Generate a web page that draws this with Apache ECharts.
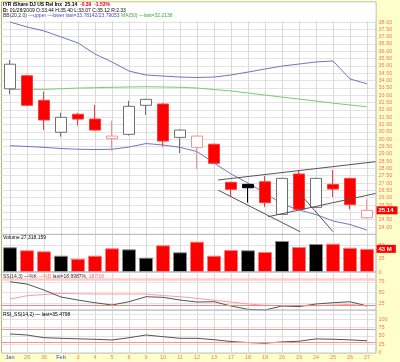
<!DOCTYPE html>
<html><head><meta charset="utf-8">
<script src="https://cdn.jsdelivr.net/npm/echarts/dist/echarts.min.js"></script>
<style>html,body{margin:0;padding:0;background:#ffffcc}#c{width:400px;height:362px}</style>
</head><body><div id="c"></div>
<script>
// ---------- data ----------
const dates = ['Jan','29','30','Feb','3','4','5','6','9','10','11','12','13','17','18','19','20','23','24','25','26','27'];
const priorClose = 33.40;
const opens  = [33.44,34.33,32.65,30.47,31.70,31.37,30.03,30.33,32.31,32.40,30.12,29.44,29.65,27.05,26.91,27.09,24.86,27.62,25.34,26.91,27.32,24.63];
const highs  = [35.40,34.40,33.24,31.80,31.80,32.33,31.26,32.62,32.76,32.45,30.66,30.25,29.70,27.10,26.95,27.48,27.36,27.89,27.36,27.89,27.36,25.89];
const lows   = [33.07,32.25,30.62,30.17,30.92,30.60,29.20,30.25,31.65,29.48,29.05,27.94,28.30,26.11,25.66,25.37,24.82,25.17,25.30,26.05,25.21,24.58];
const closes = [35.12,32.31,31.31,31.49,31.37,30.62,30.21,32.24,32.72,29.87,30.62,30.21,28.35,26.57,26.68,25.66,27.32,25.21,27.32,26.59,25.53,25.14];
const bbUpper = [38.00,37.66,37.39,36.98,36.57,35.81,35.27,34.65,34.38,34.31,34.24,34.21,34.24,34.38,34.58,34.79,34.99,35.13,35.27,35.34,34.11,33.78];
const bbLower = [29.55,29.50,29.44,29.36,29.31,29.29,29.31,29.46,29.70,29.60,29.44,29.15,28.37,27.62,27.00,26.32,25.57,25.16,24.85,24.41,24.17,23.79];
const ma50    = [33.39,33.40,33.40,33.44,33.49,33.51,33.54,33.56,33.58,33.56,33.54,33.49,33.39,33.29,33.15,33.01,32.87,32.74,32.60,32.46,32.33,32.21];
const volumes = [45.9,40.3,38.4,30.3,24.7,30.3,44.0,42.1,26.6,49.6,36.6,56.3,30.3,40.8,40.3,37.1,57.6,46.4,52.0,52.5,45.0,43.0];
const stochK  = [75,69.7,55.8,39.6,32.6,26.4,21.1,28.7,40.3,38.9,32.6,28,28.7,18.8,11.1,9.5,18.8,17.6,23.4,26.4,28.7,19.0];
const stochD  = [35,42.6,45.4,48,47,46.5,46.5,46.5,46.5,43,40.3,36.6,32,28,23.5,20.5,19.5,19,19.5,21,22.5,18.7];
const rsi     = [55.5,52.5,44.5,42.7,41.2,39.8,37.7,44.5,52.5,47.5,42.7,42.7,38.6,33.2,30.0,28.2,32.0,34.1,41,40,38,35.48];
// trendline annotations: [bar index, price]
const trendUpper = [[12.24,27.21],[21.5,28.46]];
const trendLower = [[15.18,24.70],[21.5,26.29]];
const trendDown1 = [[12.24,26.52],[17.06,23.68]];
const trendDown2 = [[16.88,26.52],[19.0,23.68]];

// ---------- styling ----------
const FONT = 'Liberation Sans, Arial, sans-serif';
const SALMON = '#f0785a';
const prevClose = closes.map((c,i)=> i===0 ? priorClose : closes[i-1]);

const candleData = opens.map((o,i)=>{
  const c = closes[i], up = c >= o, gain = c >= prevClose[i];
  let fill, border;
  if (up && gain) { fill = '#ffffff'; border = '#707070'; }
  else if (up && !gain) { fill = '#ffffff'; border = '#f49494'; }
  else if (!up && gain) { fill = '#000000'; border = '#000000'; }
  else { fill = '#ff0000'; border = '#ff3a3a'; }
  return { value: [o, c, lows[i], highs[i]],
           itemStyle: { color: fill, color0: fill, borderColor: border, borderColor0: border, borderWidth: 1 } };
});
const volData = volumes.map((v,i)=>{
  const gain = closes[i] >= prevClose[i];
  return { value: v, itemStyle: gain ? {color:'#000', borderColor:'#8a8a8a', borderWidth:1}
                                      : {color:'#ff0000', borderColor:'#ff7a7a', borderWidth:1} };
});

const lastClose = closes[closes.length-1];
const lastVol = volumes[volumes.length-1];

const hiddenCat = (gi)=>({type:'category', gridIndex:gi, data:dates, show:false});
const rightAxis = (gi, min, max, interval, fmt, split)=>({
  type:'value', gridIndex:gi, position:'right', min, max, interval,
  axisLine:{show:false}, axisTick:{show:false},
  splitLine:{show: split !== false, lineStyle:{color:'#e3e3e3', width:1}},
  axisLabel:{fontSize:5.5, margin:3, color:SALMON, fontFamily:FONT, formatter:fmt, hideOverlap:false, showMinLabel:true, showMaxLabel:true}
});

const txt = (x, y, text, rich, size) => ({
  type:'text', x, y, z:101, silent:true,
  style:{ text, rich, fontSize: size||5, fontFamily: FONT, fill:'#000', verticalAlign:'middle', align:'left' }
});

const option = {
  animation:false,
  backgroundColor:'#ffffcc',
  textStyle:{fontFamily:FONT},
  grid:[
    {left:1.5, top:14.68, width:374, height:219.64, outerBoundsMode:'none'},
    {left:1.5, top:234.32, width:374, height:37.68, outerBoundsMode:'none'},
    {left:1.5, top:271, width:374, height:43.1, outerBoundsMode:'none'},
    {left:1.5, top:310, width:374, height:42.7, outerBoundsMode:'none'},
    {left:10, top:21, width:357, height:331.7, outerBoundsMode:'none'}
  ],
  xAxis:[
    hiddenCat(0),
    {type:'value', gridIndex:0, min:-0.5, max:21.5, show:false},
    hiddenCat(1), hiddenCat(2), hiddenCat(3),
    {type:'category', gridIndex:4, data:dates, boundaryGap:false,
     axisLine:{show:false}, axisTick:{show:false},
     splitLine:{show:true, interval:0, lineStyle:{color:'#dadada', width:1}},
     axisLabel:{interval:0, fontSize:5.5, margin:2, fontFamily:FONT, hideOverlap:false,
       color:(v)=> (v==='Jan'||v==='Feb') ? '#2f3fcf' : SALMON}}
  ],
  yAxis:[
    rightAxis(0, 23.5, 38.5, 0.5, v => (v > 38.01 || v < 23.99) ? '' : v.toFixed(2)),
    rightAxis(1, 0, 70, 25, v => v > 60 ? '' : String(v)),
    rightAxis(2, 0, 100, 25, v => (v > 0 && v < 100) ? String(v) : ''),
    rightAxis(3, 0, 126.7, 25, v => v <= 100 ? String(v) : ''),
    {type:'value', gridIndex:4, show:false}
  ],
  series:[
    {type:'line', xAxisIndex:0, yAxisIndex:0, data:bbUpper, symbol:'none', silent:true, z:2,
     lineStyle:{color:'#7474c2', width:1}},
    {type:'line', xAxisIndex:0, yAxisIndex:0, data:bbLower, symbol:'none', silent:true, z:2,
     lineStyle:{color:'#7474c2', width:1}},
    {type:'line', xAxisIndex:0, yAxisIndex:0, data:ma50, symbol:'none', silent:true, z:2,
     lineStyle:{color:'#72d072', width:1}},
    {type:'candlestick', xAxisIndex:0, yAxisIndex:0, data:candleData, barWidth:11, silent:true, z:3,
     markLine:{silent:true, symbol:'none', animation:false,
       lineStyle:{color:'rgba(0,0,0,0)', width:0},
       label:{show:true, position:'end', distance:1, formatter:()=>lastClose.toFixed(2),
         backgroundColor:'#ff0000', color:'#fff', fontSize:6, fontWeight:'bold', fontFamily:FONT, padding:[1,4,1,2]},
       data:[{yAxis:lastClose}]}},
    {type:'line', xAxisIndex:1, yAxisIndex:0, data:trendUpper, symbol:'none', silent:true, z:4, lineStyle:{color:'#555', width:1}},
    {type:'line', xAxisIndex:1, yAxisIndex:0, data:trendLower, symbol:'none', silent:true, z:4, lineStyle:{color:'#555', width:1}},
    {type:'line', xAxisIndex:1, yAxisIndex:0, data:trendDown1, symbol:'none', silent:true, z:4, lineStyle:{color:'#555', width:1}},
    {type:'line', xAxisIndex:1, yAxisIndex:0, data:trendDown2, symbol:'none', silent:true, z:4, lineStyle:{color:'#555', width:1}},
    {type:'bar', xAxisIndex:2, yAxisIndex:1, data:volData, barWidth:14, silent:true,
     markLine:{silent:true, symbol:'none', animation:false,
       lineStyle:{color:'rgba(0,0,0,0)', width:0},
       label:{show:true, position:'end', distance:1, formatter:()=>Math.round(lastVol)+' M',
         backgroundColor:'#ff0000', color:'#fff', fontSize:6, fontWeight:'bold', fontFamily:FONT, padding:[1,4,1,2]},
       data:[{yAxis:lastVol}]}},
    {type:'line', xAxisIndex:3, yAxisIndex:2, data:stochD, symbol:'none', silent:true, z:3,
     lineStyle:{color:'#ff9c9c', width:1},
     markLine:{silent:true, symbol:'none', animation:false, label:{show:false},
       data:[{yAxis:80, lineStyle:{color:'#ffcaca', width:2.5, type:'solid'}},
             {yAxis:20, lineStyle:{color:'#ff8080', width:1, type:'solid'}}]}},
    {type:'line', xAxisIndex:3, yAxisIndex:2, data:stochK, symbol:'none', silent:true, z:4,
     lineStyle:{color:'#555', width:1}},
    {type:'line', xAxisIndex:4, yAxisIndex:3, data:rsi, symbol:'none', silent:true, z:4,
     lineStyle:{color:'#555', width:1},
     markLine:{silent:true, symbol:'none', animation:false, label:{show:false},
       data:[{yAxis:70, lineStyle:{color:'#ff9090', width:1, type:'solid'}},
             {yAxis:30, lineStyle:{color:'#ff9090', width:1, type:'solid'}}]}}
  ],
  graphic:{elements:[
    {type:'rect', z:-100, silent:true, shape:{x:1.5, y:2, width:374.5, height:351}, style:{fill:'#ffffff', stroke:'#adadad', lineWidth:1}},
    {type:'rect', z:100, silent:true, shape:{x:2, y:2.5, width:373.5, height:18.3}, style:{fill:'#ffffff'}},
    {type:'line', z:50, silent:true, shape:{x1:1.5, y1:234.3, x2:376, y2:234.3}, style:{stroke:'#b5b5b5', lineWidth:1}},
    {type:'line', z:50, silent:true, shape:{x1:1.5, y1:272, x2:376, y2:272}, style:{stroke:'#b5b5b5', lineWidth:1}},
    {type:'line', z:50, silent:true, shape:{x1:1.5, y1:310, x2:376, y2:310}, style:{stroke:'#b5b5b5', lineWidth:1}},
    txt(3, 4.8, '{b|IYR iShare DJ US Rel Inx}  {b|25.14}  {r|-0.39}  {r|-1.53%}',
        {b:{fontWeight:'bold', fill:'#000', fontSize:5, fontFamily:FONT}, r:{fontWeight:'bold', fill:'#ee0000', fontSize:5, fontFamily:FONT}}),
    txt(3, 10.3, '{b|D:} 01/28/2009 O:33.44 H:35.40 L:33.07 C:35.12 R:2.33',
        {b:{fontWeight:'bold', fill:'#000', fontSize:5, fontFamily:FONT}}),
    txt(3, 15.6, '{k|BB(20,2.0)} {u|\u2014upper \u2014lower last=33.78142/23.79053} {g|MA(50) \u2014last=32.2138}',
        {k:{fill:'#333', fontSize:5, fontFamily:FONT}, u:{fill:'#4a4ab8', fontSize:5, fontFamily:FONT}, g:{fill:'#3aaa3a', fontSize:5, fontFamily:FONT}}),
    txt(3, 237.5, 'Volume 27,318,159', {}),
    txt(3, 277, '{k|SS(14,3)} {k|\u2014%K} {p|\u2014%D} {k|last=18.9987%,} {p|18.718}',
        {k:{fill:'#333', fontSize:5, fontFamily:FONT}, p:{fill:'#ff6a6a', fontSize:5, fontFamily:FONT}}),
    txt(3, 314.3, 'RSI_SS(14,2) \u2014 last=35.4798', {})
  ]}
};

const chart = echarts.init(document.getElementById('c'), null, {renderer:'canvas'});
chart.setOption(option);
</script>
</body></html>
